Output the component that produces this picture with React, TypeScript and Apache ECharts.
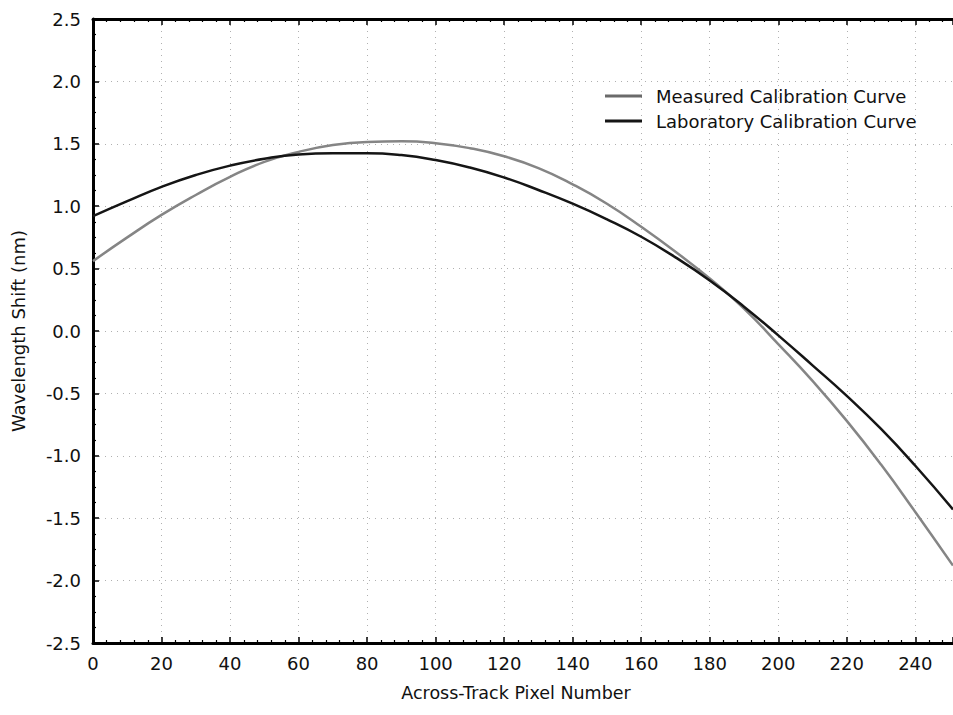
import React, { useEffect, useRef } from "react";
import * as echarts from "echarts";

const pixels = [0, 10, 20, 30, 40, 50, 60, 70, 80, 90, 100, 110, 120, 130, 140, 150, 160, 170, 180, 190, 200, 210, 220, 230, 240, 251];
const measured = [0.56, 0.75, 0.93, 1.09, 1.235, 1.355, 1.435, 1.49, 1.515, 1.52, 1.505, 1.465, 1.40, 1.305, 1.175, 1.02, 0.835, 0.635, 0.42, 0.18, -0.105, -0.40, -0.72, -1.07, -1.45, -1.88];
const laboratory = [0.92, 1.04, 1.155, 1.25, 1.325, 1.38, 1.415, 1.425, 1.425, 1.41, 1.37, 1.31, 1.23, 1.13, 1.02, 0.895, 0.755, 0.59, 0.405, 0.195, -0.035, -0.275, -0.52, -0.785, -1.08, -1.43];
const seriesNames = ["Measured Calibration Curve", "Laboratory Calibration Curve"];
const xTitle = "Across-Track Pixel Number";
const yTitle = "Wavelength Shift (nm)";

const FONT = "DejaVu Sans";

export default function App() {
  const ref = useRef<HTMLDivElement>(null);
  useEffect(() => {
    if (!ref.current) return;
    const chart = echarts.init(ref.current, null, { renderer: "svg" });
    const gridLine = { show: true, lineStyle: { color: "#b0b0b0", type: [1, 5] as any, width: 1 } };
    const axisLine = { show: true, onZero: false, lineStyle: { color: "#000", width: 3 } };
    const tick = { show: true, inside: true, length: 6, lineStyle: { color: "#000", width: 1.5 } };
    const minor = { show: true, length: 3, lineStyle: { color: "#000", width: 1.2 } };
    chart.setOption({
      animation: false,
      backgroundColor: "#fff",
      grid: { left: 93, top: 19, right: 0, bottom: 72 },
      legend: {
        data: seriesNames,
        orient: "vertical",
        left: 605,
        top: 87,
        padding: 0,
        itemWidth: 37,
        itemHeight: 3,
        itemGap: 7,
        icon: "rect",
        textStyle: { fontFamily: FONT, fontSize: 18, color: "#111", padding: [0, 0, 0, 9] },
      },
      xAxis: [
        {
          type: "value",
          min: 0,
          max: 251,
          interval: 20,
          position: "bottom",
          name: xTitle,
          nameLocation: "middle",
          nameGap: 41,
          nameTextStyle: { fontFamily: FONT, fontSize: 17.5, color: "#111", padding: [0, 14, 0, 0] },
          axisLine,
          axisTick: tick,
          minorTick: { ...minor, splitNumber: 5 },
          splitLine: gridLine,
          axisLabel: {
            fontFamily: FONT,
            fontSize: 18,
            color: "#111",
            margin: 11,
            showMaxLabel: false,
            formatter: (v: number) => (v % 20 === 0 ? String(v) : ""),
          },
        },
        {
          type: "value",
          min: 0,
          max: 251,
          interval: 20,
          position: "top",
          axisLine,
          axisTick: tick,
          minorTick: { ...minor, splitNumber: 5 },
          splitLine: { show: false },
          axisLabel: { show: false },
        },
      ],
      yAxis: {
        type: "value",
        min: -2.5,
        max: 2.5,
        interval: 0.5,
        name: yTitle,
        nameLocation: "middle",
        nameGap: 66,
        nameTextStyle: { fontFamily: FONT, fontSize: 18, color: "#111" },
        axisLine,
        axisTick: tick,
        minorTick: { ...minor, splitNumber: 4 },
        splitLine: gridLine,
        axisLabel: {
          fontFamily: FONT,
          fontSize: 18,
          color: "#111",
          margin: 12,
          formatter: (v: number) => v.toFixed(1),
        },
      },
      series: [
        {
          name: seriesNames[0],
          type: "line",
          data: pixels.map((x, i) => [x, measured[i]]),
          smooth: 0.5,
          showSymbol: false,
          lineStyle: { color: "#858585", width: 2.5 },
          itemStyle: { color: "#6a6a6a" },
        },
        {
          name: seriesNames[1],
          type: "line",
          data: pixels.map((x, i) => [x, laboratory[i]]),
          smooth: 0.5,
          showSymbol: false,
          lineStyle: { color: "#151515", width: 2.5 },
          itemStyle: { color: "#151515" },
        },
      ],
    });
    return () => chart.dispose();
  }, []);
  return <div ref={ref} style={{ position: "fixed", left: 0, top: 0, width: 953, height: 715 }} />;
}
